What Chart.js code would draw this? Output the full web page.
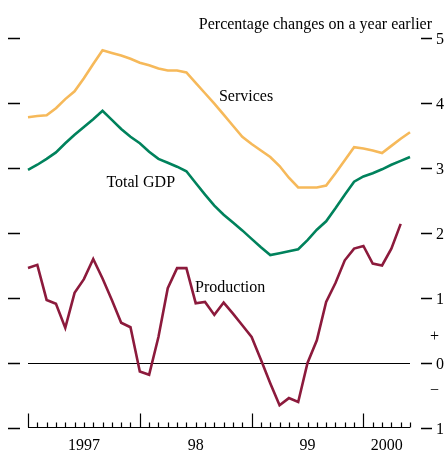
<!DOCTYPE html>
<html>
<head>
<meta charset="utf-8">
<script src="https://cdn.jsdelivr.net/npm/chart.js@4/dist/chart.umd.min.js"></script>
<style>
  html, body { margin: 0; padding: 0; background: #fff; }
  #wrap { width: 448px; height: 450px; }
</style>
</head>
<body>
<div id="wrap"><canvas id="lineChart" width="448" height="450"></canvas></div>
<script>
// monthly, Jan 1997 .. Jun 2000
const years = [1997, 1998, 1999, 2000];
const monthNames = ['Jan','Feb','Mar','Apr','May','Jun','Jul','Aug','Sep','Oct','Nov','Dec'];
const monthsIn2000 = 6;
const yearLabels = ['1997', '98', '99', '2000'];
const yTicks = [-1, 0, 1, 2, 3, 4, 5];

// Percentage changes on a year earlier
const services = [3.78, 3.80, 3.81, 3.92, 4.06, 4.18, 4.38, 4.60, 4.81, 4.77,
                  4.73, 4.68, 4.62, 4.58, 4.53, 4.50, 4.50, 4.47, 4.31, 4.15,
                  3.99, 3.82, 3.65, 3.48, 3.37, 3.27, 3.17, 3.03, 2.85, 2.70,
                  2.70, 2.70, 2.73, 2.92, 3.12, 3.32, 3.30, 3.27, 3.23, 3.34,
                  3.45, 3.55];
const totalGDP = [2.97, 3.05, 3.14, 3.24, 3.38, 3.51, 3.63, 3.75, 3.88, 3.74,
                  3.60, 3.48, 3.38, 3.25, 3.14, 3.08, 3.02, 2.95, 2.77, 2.59,
                  2.42, 2.28, 2.16, 2.04, 1.91, 1.78, 1.66, 1.69, 1.72, 1.75,
                  1.89, 2.05, 2.18, 2.38, 2.59, 2.79, 2.87, 2.92, 2.98, 3.05,
                  3.11, 3.17];
const production = [1.46, 1.51, 0.97, 0.91, 0.54, 1.08, 1.29, 1.60, 1.30, 0.97,
                    0.62, 0.55, -0.13, -0.18, 0.40, 1.15, 1.46, 1.46, 0.92, 0.94,
                    0.74, 0.93, 0.76, 0.58, 0.40, 0.05, -0.31, -0.65, -0.54, -0.60,
                    0.00, 0.35, 0.94, 1.23, 1.58, 1.76, 1.80, 1.53, 1.50, 1.76,
                    2.14];

let labels = [];
years.forEach(function (yr) {
    let n = yr === 2000 ? monthsIn2000 : 12;
    for (let m = 0; m < n; m++) labels.push(monthNames[m] + ' ' + yr);
});

const serif = '"Liberation Serif", "Times New Roman", serif';

// text placed next to each line (index, value)
const seriesNotes = [
    { text: 'Services', x: 23.4, y: 4.09 },
    { text: 'Total GDP', x: 12.1, y: 2.78 },
    { text: 'Production', x: 21.7, y: 1.15 }
];

const decorations = {
    id: 'decorations',
    beforeDatasetsDraw(chart) {
        const ctx = chart.ctx;
        const xs = chart.scales.x, ys = chart.scales.y;
        const y0 = Math.round(ys.getPixelForValue(0)) + 0.5;
        ctx.save();
        ctx.strokeStyle = '#000';
        ctx.lineWidth = 1;
        ctx.beginPath();
        ctx.moveTo(xs.getPixelForValue(0), y0);
        ctx.lineTo(xs.getPixelForValue(labels.length - 1), y0);
        ctx.stroke();
        ctx.restore();
    },
    afterDraw(chart) {
        const ctx = chart.ctx;
        const xs = chart.scales.x, ys = chart.scales.y;
        const area = chart.chartArea;
        ctx.save();
        ctx.strokeStyle = '#000';
        ctx.fillStyle = '#000';
        ctx.lineWidth = 1.3;

        // y tick dashes on both sides and labels on the right
        ctx.font = '16px ' + serif;
        ctx.textBaseline = 'middle';
        ctx.textAlign = 'left';
        yTicks.forEach(function (v) {
            const y = Math.round(ys.getPixelForValue(v)) + 0.5;
            ctx.beginPath();
            ctx.moveTo(8, y); ctx.lineTo(20, y);
            ctx.moveTo(area.right + 11, y); ctx.lineTo(area.right + 22, y);
            ctx.stroke();
            ctx.fillText(String(Math.abs(v)), area.right + 26, y + 1);
        });
        ctx.fillText('+', area.right + 20, ys.getPixelForValue(0.4));
        ctx.fillText('\u2212', area.right + 20, ys.getPixelForValue(-0.42));

        // x axis with monthly ticks, taller ticks at year starts
        const yb = Math.round(ys.getPixelForValue(-1)) - 0.5;
        ctx.lineWidth = 1.2;
        ctx.beginPath();
        ctx.moveTo(xs.getPixelForValue(0), yb);
        ctx.lineTo(xs.getPixelForValue(labels.length - 1), yb);
        labels.forEach(function (lab, i) {
            const x = Math.round(xs.getPixelForValue(i)) + 0.5;
            const major = lab.indexOf('Jan') === 0;
            ctx.moveTo(x, yb);
            ctx.lineTo(x, yb - (major ? 14 : 5));
        });
        ctx.stroke();

        // year labels centred under each year
        ctx.textAlign = 'center';
        years.forEach(function (yr, k) {
            let first = labels.findIndex(l => l.endsWith(String(yr)));
            let last = Math.min(first + 12, labels.length - 1);
            let mid = (xs.getPixelForValue(first) + xs.getPixelForValue(last)) / 2;
            ctx.fillText(yearLabels[k], mid, yb + 18);
        });

        // series names
        seriesNotes.forEach(function (n) {
            ctx.fillText(n.text, xs.getPixelForValue(n.x), ys.getPixelForValue(n.y));
        });

        // unit title
        ctx.textAlign = 'right';
        ctx.fillText('Percentage changes on a year earlier', 432, 25);
        ctx.restore();
    }
};

const data = {
    labels: labels,
    datasets: [
        { label: 'Services', data: services, borderColor: '#f6b95a' },
        { label: 'Total GDP', data: totalGDP, borderColor: '#00825c' },
        { label: 'Production', data: production, borderColor: '#8c1a3c' }
    ].map(function (d) {
        return Object.assign(d, { borderWidth: 2.6, pointRadius: 0, tension: 0, fill: false });
    })
};

new Chart(document.getElementById('lineChart').getContext('2d'), {
    type: 'line',
    data: data,
    options: {
        responsive: false,
        animation: false,
        layout: { padding: { left: 28, right: 38, top: 38, bottom: 22 } },
        plugins: { legend: { display: false }, tooltip: { enabled: false }, title: { display: false } },
        scales: {
            x: { display: false, offset: false },
            y: { display: false, min: -1, max: 5 }
        }
    },
    plugins: [decorations]
});
</script>
</body>
</html>
